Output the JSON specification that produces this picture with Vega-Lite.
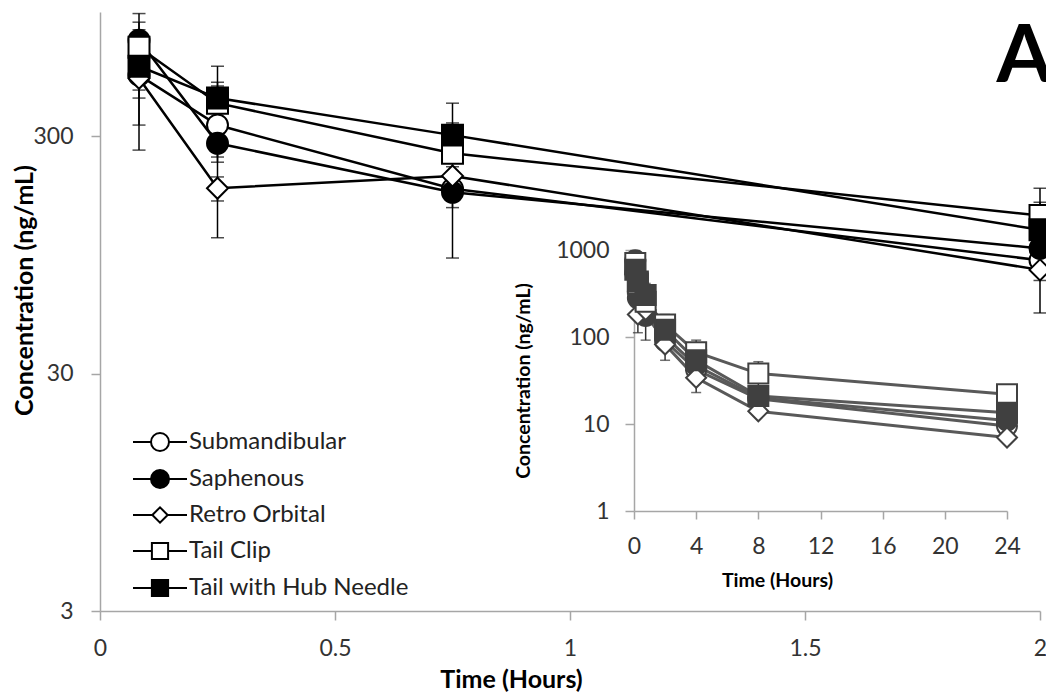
{
  "$schema": "https://vega.github.io/schema/vega-lite/v6.json",
  "width": 940,
  "height": 599,
  "autosize": {"type": "none"},
  "padding": {"left": 100, "top": 12, "right": 6, "bottom": 83},
  "background": "white",
  "config": {
    "view": {"stroke": null},
    "font": "Lato",
    "axis": {"grid": false, "labelFont": "Lato", "titleFont": "Lato", "titleColor": "black"}
  },
  "title": {
    "text": "A", "anchor": "end", "frame": "group", "font": "Lato", "fontSize": 80,
    "fontWeight": "bold", "color": "black", "baseline": "alphabetic", "offset": -150, "dx": 12
  },
  "datasets": {
    "pk": [
      {"series": "Submandibular", "time": 0.083, "conc": 542, "lo": 469, "hi": 615},
      {"series": "Submandibular", "time": 0.25, "conc": 334, "lo": 112, "hi": 591},
      {"series": "Submandibular", "time": 0.75, "conc": 180, "lo": 160, "hi": 200},
      {"series": "Submandibular", "time": 2, "conc": 90, "lo": 80, "hi": 100},
      {"series": "Submandibular", "time": 4, "conc": 42, "lo": 36, "hi": 48},
      {"series": "Submandibular", "time": 8, "conc": 19.5, "lo": 16.5, "hi": 22.5},
      {"series": "Submandibular", "time": 24, "conc": 9.5, "lo": 8.3, "hi": 10.7},
      {"series": "Saphenous", "time": 0.083, "conc": 761, "lo": 680, "hi": 842},
      {"series": "Saphenous", "time": 0.25, "conc": 280, "lo": 245, "hi": 315},
      {"series": "Saphenous", "time": 0.75, "conc": 174, "lo": 150, "hi": 198},
      {"series": "Saphenous", "time": 2, "conc": 101, "lo": 88, "hi": 114},
      {"series": "Saphenous", "time": 4, "conc": 47, "lo": 40, "hi": 54},
      {"series": "Saphenous", "time": 8, "conc": 20, "lo": 17, "hi": 23},
      {"series": "Saphenous", "time": 24, "conc": 11, "lo": 9.5, "hi": 12.5},
      {"series": "Retro Orbital", "time": 0.083, "conc": 526, "lo": 434, "hi": 618},
      {"series": "Retro Orbital", "time": 0.25, "conc": 181, "lo": 160, "hi": 202},
      {"series": "Retro Orbital", "time": 0.75, "conc": 204, "lo": 185, "hi": 223},
      {"series": "Retro Orbital", "time": 2, "conc": 82, "lo": 74, "hi": 90},
      {"series": "Retro Orbital", "time": 4, "conc": 34, "lo": 23, "hi": 45},
      {"series": "Retro Orbital", "time": 8, "conc": 14, "lo": 12.5, "hi": 15.5},
      {"series": "Retro Orbital", "time": 24, "conc": 7, "lo": 6.2, "hi": 7.8},
      {"series": "Tail Clip", "time": 0.083, "conc": 711, "lo": 334, "hi": 985},
      {"series": "Tail Clip", "time": 0.25, "conc": 413, "lo": 233, "hi": 506},
      {"series": "Tail Clip", "time": 0.75, "conc": 254, "lo": 92, "hi": 413},
      {"series": "Tail Clip", "time": 2, "conc": 139, "lo": 120, "hi": 158},
      {"series": "Tail Clip", "time": 4, "conc": 67, "lo": 44, "hi": 92},
      {"series": "Tail Clip", "time": 8, "conc": 38, "lo": 26, "hi": 52},
      {"series": "Tail Clip", "time": 24, "conc": 22, "lo": 19, "hi": 25},
      {"series": "Tail with Hub Needle", "time": 0.083, "conc": 591, "lo": 262, "hi": 906},
      {"series": "Tail with Hub Needle", "time": 0.25, "conc": 434, "lo": 380, "hi": 488},
      {"series": "Tail with Hub Needle", "time": 0.75, "conc": 303, "lo": 265, "hi": 341},
      {"series": "Tail with Hub Needle", "time": 2, "conc": 121, "lo": 54, "hi": 181},
      {"series": "Tail with Hub Needle", "time": 4, "conc": 54, "lo": 46, "hi": 62},
      {"series": "Tail with Hub Needle", "time": 8, "conc": 21, "lo": 18, "hi": 24},
      {"series": "Tail with Hub Needle", "time": 24, "conc": 13.5, "lo": 11.5, "hi": 15.5}
    ]
  },
  "data": {"name": "pk"},
  "layer": [
    {
      "transform": [{"filter": "datum.time <= 2"}],
      "encoding": {
        "x": {
          "field": "time", "type": "quantitative", "title": "Time (Hours)",
          "scale": {"domain": [0, 2], "nice": false, "zero": false},
          "axis": {
            "orient": "bottom", "values": [0, 0.5, 1, 1.5, 2], "format": "~g",
            "domainColor": "#A6A6A6", "domainWidth": 1.5, "tickColor": "#A6A6A6", "tickWidth": 1.5, "tickSize": 9,
            "labelFontSize": 23, "labelPadding": 17, "labelColor": "#333333", "labelFlush": false,
            "titleFontSize": 25, "titleFontWeight": "bold", "titlePadding": 7, "titleX": 411
          }
        }
      },
      "layer": [
        {
          "mark": {"type": "line", "stroke": "black", "strokeWidth": 2.5},
          "encoding": {
            "y": {
              "field": "conc", "type": "quantitative", "title": "Concentration (ng/mL)",
              "scale": {"type": "log", "domain": [3, 1000], "nice": false},
              "axis": {
                "orient": "left", "values": [3, 30, 300], "format": "d",
                "domainColor": "#A6A6A6", "domainWidth": 1.5, "tickColor": "#A6A6A6", "tickWidth": 1.5, "tickSize": 9,
                "labelFontSize": 23, "labelPadding": 18, "labelColor": "#333333",
                "titleFontSize": 25, "titleFontWeight": "bold", "titlePadding": -5, "titleY": 278
              }
            },
            "detail": {"field": "series"},
            "order": {"field": "time"}
          }
        },
        {
          "mark": {"type": "rule", "color": "black", "strokeWidth": 1.5},
          "encoding": {
            "y": {"field": "lo", "type": "quantitative", "title": "Concentration (ng/mL)", "scale": {"type": "log", "domain": [3, 1000], "nice": false}},
            "y2": {"field": "hi"}
          }
        },
        {
          "mark": {"type": "tick", "orient": "horizontal", "color": "black", "size": 13, "thickness": 1.5},
          "encoding": {
            "y": {"field": "lo", "type": "quantitative", "title": "Concentration (ng/mL)", "scale": {"type": "log", "domain": [3, 1000], "nice": false}}
          }
        },
        {
          "mark": {"type": "tick", "orient": "horizontal", "color": "black", "size": 13, "thickness": 1.5},
          "encoding": {
            "y": {"field": "hi", "type": "quantitative", "title": "Concentration (ng/mL)", "scale": {"type": "log", "domain": [3, 1000], "nice": false}}
          }
        },
        {
          "mark": {"type": "point", "filled": true, "stroke": "black", "strokeWidth": 2, "size": 440, "opacity": 1},
          "encoding": {
            "y": {"field": "conc", "type": "quantitative", "title": "Concentration (ng/mL)", "scale": {"type": "log", "domain": [3, 1000], "nice": false}},
            "shape": {
              "field": "series", "type": "nominal",
              "scale": {"domain": ["Submandibular", "Saphenous", "Retro Orbital", "Tail Clip", "Tail with Hub Needle"], "range": ["circle", "circle", "diamond", "square", "square"]},
              "legend": null
            },
            "fill": {
              "field": "series", "type": "nominal",
              "scale": {"domain": ["Submandibular", "Saphenous", "Retro Orbital", "Tail Clip", "Tail with Hub Needle"], "range": ["white", "black", "white", "white", "black"]},
              "legend": null
            }
          }
        }
      ]
    },
    {
      "encoding": {
        "x": {
          "field": "time", "type": "quantitative", "title": "Time (Hours)",
          "scale": {"domain": [0, 24], "range": [534, 907], "nice": false, "zero": false},
          "axis": {
            "orient": "bottom", "offset": -100, "values": [0, 4, 8, 12, 16, 20, 24], "format": "d",
            "domainColor": "#A6A6A6", "domainWidth": 1.5, "tickColor": "#A6A6A6", "tickWidth": 1.5, "tickSize": 8,
            "labelFontSize": 23, "labelPadding": 16, "labelColor": "#333333", "labelFlush": false,
            "titleFontSize": 19.5, "titleFontWeight": "bold", "titlePadding": 13, "titleX": 677
          }
        }
      },
      "layer": [
        {
          "mark": {"type": "line", "stroke": "#595959", "strokeWidth": 3},
          "encoding": {
            "y": {
              "field": "conc", "type": "quantitative", "title": "Concentration (ng/mL)",
              "scale": {"type": "log", "domain": [1, 1000], "range": [499, 238], "nice": false},
              "axis": {
                "orient": "left", "offset": -534, "values": [1, 10, 100, 1000], "format": "d",
                "domainColor": "#A6A6A6", "domainWidth": 1.5, "tickColor": "#A6A6A6", "tickWidth": 1.5, "tickSize": 9,
                "labelFontSize": 23, "labelPadding": 16, "labelColor": "#333333",
                "titleFontSize": 19.5, "titleFontWeight": "bold", "titlePadding": 22
              }
            },
            "detail": {"field": "series"},
            "order": {"field": "time"}
          }
        },
        {
          "mark": {"type": "rule", "color": "#333333", "strokeWidth": 1.5},
          "encoding": {
            "y": {"field": "lo", "type": "quantitative", "title": "Concentration (ng/mL)", "scale": {"type": "log", "domain": [1, 1000], "range": [499, 238], "nice": false}},
            "y2": {"field": "hi"}
          }
        },
        {
          "mark": {"type": "tick", "orient": "horizontal", "color": "#333333", "size": 10, "thickness": 1.5},
          "encoding": {
            "y": {"field": "lo", "type": "quantitative", "title": "Concentration (ng/mL)", "scale": {"type": "log", "domain": [1, 1000], "range": [499, 238], "nice": false}}
          }
        },
        {
          "mark": {"type": "tick", "orient": "horizontal", "color": "#333333", "size": 10, "thickness": 1.5},
          "encoding": {
            "y": {"field": "hi", "type": "quantitative", "title": "Concentration (ng/mL)", "scale": {"type": "log", "domain": [1, 1000], "range": [499, 238], "nice": false}}
          }
        },
        {
          "mark": {"type": "point", "filled": true, "stroke": "#404040", "strokeWidth": 2, "size": 400, "opacity": 1},
          "encoding": {
            "y": {"field": "conc", "type": "quantitative", "title": "Concentration (ng/mL)", "scale": {"type": "log", "domain": [1, 1000], "range": [499, 238], "nice": false}},
            "shape": {
              "field": "series", "type": "nominal",
              "scale": {"domain": ["Submandibular", "Saphenous", "Retro Orbital", "Tail Clip", "Tail with Hub Needle"], "range": ["circle", "circle", "diamond", "square", "square"]},
              "legend": null
            },
            "fill": {
              "field": "series", "type": "nominal",
              "scale": {"domain": ["Submandibular", "Saphenous", "Retro Orbital", "Tail Clip", "Tail with Hub Needle"], "range": ["white", "#404040", "white", "white", "#404040"]},
              "legend": null
            }
          }
        }
      ]
    },
    {
      "transform": [{"filter": "false"}],
      "mark": {"type": "point", "filled": true, "strokeWidth": 2, "size": 324, "opacity": 1},
      "encoding": {
        "shape": {
          "field": "series", "type": "nominal", "title": null,
          "scale": {
            "domain": ["Submandibular", "Saphenous", "Retro Orbital", "Tail Clip", "Tail with Hub Needle"],
            "range": [
              "M-3,0H-1M1,0H3M-1,0A1,1,0,1,1,1,0A1,1,0,1,1,-1,0Z",
              "M-3,0H-1M1,0H3M-1,0A1,1,0,1,1,1,0A1,1,0,1,1,-1,0Z",
              "M-3,0H-0.85M0.85,0H3M-0.85,0L0,-0.85L0.85,0L0,0.85Z",
              "M-3,0H-0.9M0.9,0H3M-0.9,-0.9H0.9V0.9H-0.9Z",
              "M-3,0H-0.9M0.9,0H3M-0.9,-0.9H0.9V0.9H-0.9Z"
            ]
          },
          "legend": {
            "orient": "none", "legendX": 48, "legendY": 418, "padding": 0,
            "labelFont": "Lato", "labelFontSize": 24, "labelColor": "#222222", "labelLimit": 400,
            "symbolSize": 324, "symbolStrokeWidth": 2,
            "labelOffset": 17, "rowPadding": 11
          }
        },
        "fill": {
          "field": "series", "type": "nominal", "title": null,
          "scale": {"domain": ["Submandibular", "Saphenous", "Retro Orbital", "Tail Clip", "Tail with Hub Needle"], "range": ["white", "black", "white", "white", "black"]},
          "legend": {
            "orient": "none", "legendX": 48, "legendY": 418, "padding": 0,
            "labelFont": "Lato", "labelFontSize": 24, "labelColor": "#222222", "labelLimit": 400,
            "symbolSize": 324, "symbolStrokeWidth": 2,
            "labelOffset": 17, "rowPadding": 11
          }
        },
        "stroke": {
          "field": "series", "type": "nominal", "title": null,
          "scale": {"domain": ["Submandibular", "Saphenous", "Retro Orbital", "Tail Clip", "Tail with Hub Needle"], "range": ["black", "black", "black", "black", "black"]},
          "legend": {
            "orient": "none", "legendX": 48, "legendY": 418, "padding": 0,
            "labelFont": "Lato", "labelFontSize": 24, "labelColor": "#222222", "labelLimit": 400,
            "symbolSize": 324, "symbolStrokeWidth": 2,
            "labelOffset": 17, "rowPadding": 11
          }
        }
      }
    }
  ],
  "resolve": {
    "scale": {"x": "independent", "y": "independent", "shape": "independent", "fill": "independent", "stroke": "independent"},
    "axis": {"x": "independent", "y": "independent"}
  }
}
